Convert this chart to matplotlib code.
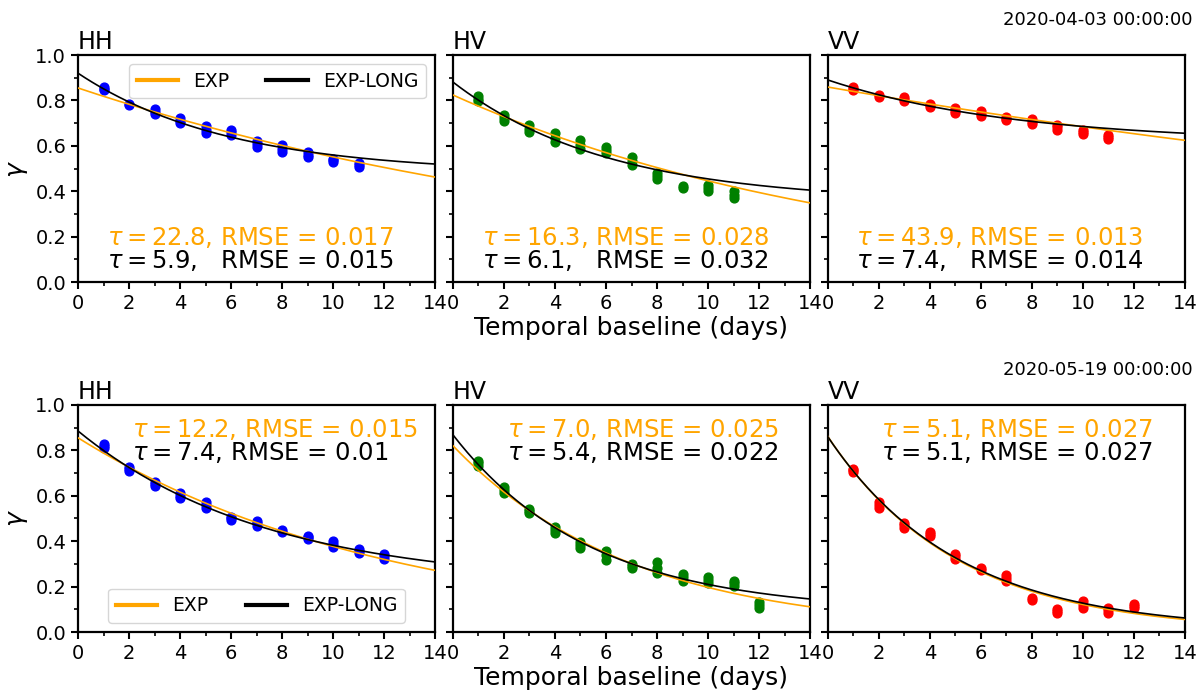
import numpy as np
import matplotlib
matplotlib.use('Agg')
import matplotlib.pyplot as plt
from matplotlib.ticker import MultipleLocator

plt.rcParams['font.family'] = 'DejaVu Sans'
plt.rcParams['mathtext.fontset'] = 'dejavusans'

# ---- data ---------------------------------------------------------------
pols = ['HH', 'HV', 'VV']
dates = ['2020-04-03 00:00:00', '2020-05-19 00:00:00']
point_colors = ['b', 'g', 'r']

# coherence samples per temporal baseline (day 1, 2, ...)
# row 0 : 2020-04-03
hh_1 = [[0.846, 0.852, 0.859], [0.780, 0.784], [0.740, 0.750, 0.762], [0.700, 0.710, 0.722],
        [0.656, 0.670, 0.687], [0.648, 0.660, 0.670], [0.595, 0.608, 0.621], [0.573, 0.588, 0.604],
        [0.551, 0.562, 0.573], [0.529, 0.536, 0.542], [0.507, 0.515, 0.524]]
hv_1 = [[0.797, 0.808, 0.819], [0.709, 0.722, 0.736], [0.661, 0.676, 0.692], [0.617, 0.636, 0.656],
        [0.586, 0.605, 0.626], [0.568, 0.580, 0.595], [0.515, 0.533, 0.551], [0.454, 0.467, 0.480],
        [0.414, 0.423], [0.401, 0.414, 0.427], [0.370, 0.385, 0.401]]
vv_1 = [[0.846, 0.852, 0.859], [0.815, 0.824], [0.797, 0.806, 0.815], [0.771, 0.778, 0.784],
        [0.744, 0.755, 0.767], [0.731, 0.742, 0.753], [0.714, 0.720, 0.727], [0.696, 0.707, 0.718],
        [0.670, 0.681, 0.692], [0.652, 0.661, 0.670], [0.630, 0.639, 0.648]]
# row 1 : 2020-05-19
hh_2 = [[0.810, 0.819, 0.828], [0.709, 0.718, 0.727], [0.643, 0.652, 0.660], [0.590, 0.600, 0.612],
        [0.546, 0.560, 0.573], [0.493, 0.500, 0.507], [0.467, 0.478, 0.489], [0.440, 0.449],
        [0.410, 0.417, 0.423], [0.374, 0.387, 0.400], [0.348, 0.357, 0.366], [0.322, 0.333, 0.344]]
hv_2 = [[0.731, 0.742, 0.753], [0.612, 0.625, 0.639], [0.524, 0.533, 0.542], [0.436, 0.450, 0.463],
        [0.370, 0.383, 0.396], [0.317, 0.337, 0.357], [0.282, 0.291, 0.300], [0.260, 0.284, 0.308],
        [0.225, 0.240, 0.255], [0.216, 0.229, 0.242], [0.203, 0.214, 0.225], [0.106, 0.119, 0.132]]
vv_2 = [[0.705, 0.712, 0.718], [0.546, 0.560, 0.573], [0.458, 0.469, 0.480], [0.423, 0.432, 0.440],
        [0.322, 0.333, 0.344], [0.273, 0.282], [0.225, 0.238, 0.250], [0.141, 0.150],
        [0.084, 0.093, 0.101], [0.106, 0.121, 0.137], [0.084, 0.095, 0.106], [0.106, 0.115, 0.123]]
samples = [[hh_1, hv_1, vv_1], [hh_2, hv_2, vv_2]]

# fitted models: EXP  a*exp(-t/tau) ; EXP-LONG (a-c)*exp(-t/tau)+c
exp_a = [[0.855, 0.824, 0.859], [0.855, 0.82, 0.86]]
exp_tau = [[22.8, 16.3, 43.9], [12.2, 7.0, 5.1]]
exp_rmse = [['0.017', '0.028', '0.013'], ['0.015', '0.025', '0.027']]
long_a = [[0.92, 0.881, 0.89], [0.885, 0.868, 0.859]]
long_c = [[0.479, 0.352, 0.614], [0.206, 0.087, 0.007]]
long_tau = [[5.9, 6.1, 7.4], [7.4, 5.4, 5.1]]
long_rmse = [['0.015', '0.032', '0.014'], ['0.01', '0.022', '0.027']]

# ---- figure -------------------------------------------------------------
fig, axes = plt.subplots(2, 3, figsize=(12, 6.93), dpi=100, sharey=True)
fig.subplots_adjust(left=0.065, right=0.9875, top=0.9206, bottom=0.088,
                    wspace=0.05, hspace=0.54)

t = np.linspace(0, 14, 200)
for r in range(2):
    for c in range(3):
        ax = axes[r, c]
        for d, vals in enumerate(samples[r][c]):
            ax.scatter([d + 1] * len(vals), vals, s=40, color=point_colors[c], zorder=2)
        ax.plot(t, exp_a[r][c] * np.exp(-t / exp_tau[r][c]), color='orange', lw=1.2,
                label='EXP', zorder=3)
        ax.plot(t, (long_a[r][c] - long_c[r][c]) * np.exp(-t / long_tau[r][c]) + long_c[r][c],
                color='k', lw=1.2, label='EXP-LONG', zorder=3)

        ax.set_xlim(0, 14)
        ax.set_ylim(0, 1)
        ax.xaxis.set_major_locator(MultipleLocator(2))
        ax.xaxis.set_minor_locator(MultipleLocator(1))
        ax.yaxis.set_major_locator(MultipleLocator(0.2))
        ax.yaxis.set_minor_locator(MultipleLocator(0.1))
        ax.tick_params(which='major', labelsize=14, width=1.5, length=5)
        ax.tick_params(which='minor', width=1.2, length=3)
        ax.tick_params(axis='y', labelleft=(c == 0))
        for sp in ax.spines.values():
            sp.set_linewidth(1.6)
        ax.set_title(pols[c], loc='left', fontsize=17, pad=4)

        if r == 0:
            pad = '   '
            tx, ty1, ty2 = 0.08, 0.195, 0.095
        else:
            pad = ' '
            tx, ty1, ty2 = 0.15, 0.89, 0.79
        ax.text(tx, ty1, r'$\tau = %.1f$, RMSE = %s' % (exp_tau[r][c], exp_rmse[r][c]),
                color='orange', fontsize=17.5, transform=ax.transAxes, va='center', ha='left')
        ax.text(tx, ty2, r'$\tau = %.1f$,%sRMSE = %s' % (long_tau[r][c], pad, long_rmse[r][c]),
                color='k', fontsize=17.5, transform=ax.transAxes, va='center', ha='left')

    axes[r, 0].set_ylabel(r'$\gamma$', fontsize=18)
    axes[r, 1].set_xlabel('Temporal baseline (days)', fontsize=18, labelpad=2)

axes[0, 0].legend(loc='upper right', ncol=2, fontsize=13.5, handlelength=2.2)
axes[1, 0].legend(loc='lower center', ncol=2, fontsize=13.5, handlelength=2.2)
for leg in [axes[0, 0].get_legend(), axes[1, 0].get_legend()]:
    for h in leg.get_lines():
        h.set_linewidth(3)

fig.text(0.9935, 0.971, dates[0], ha='right', va='center', fontsize=13)
fig.text(0.9935, 0.466, dates[1], ha='right', va='center', fontsize=13)

fig.savefig('out.png', dpi=100)
